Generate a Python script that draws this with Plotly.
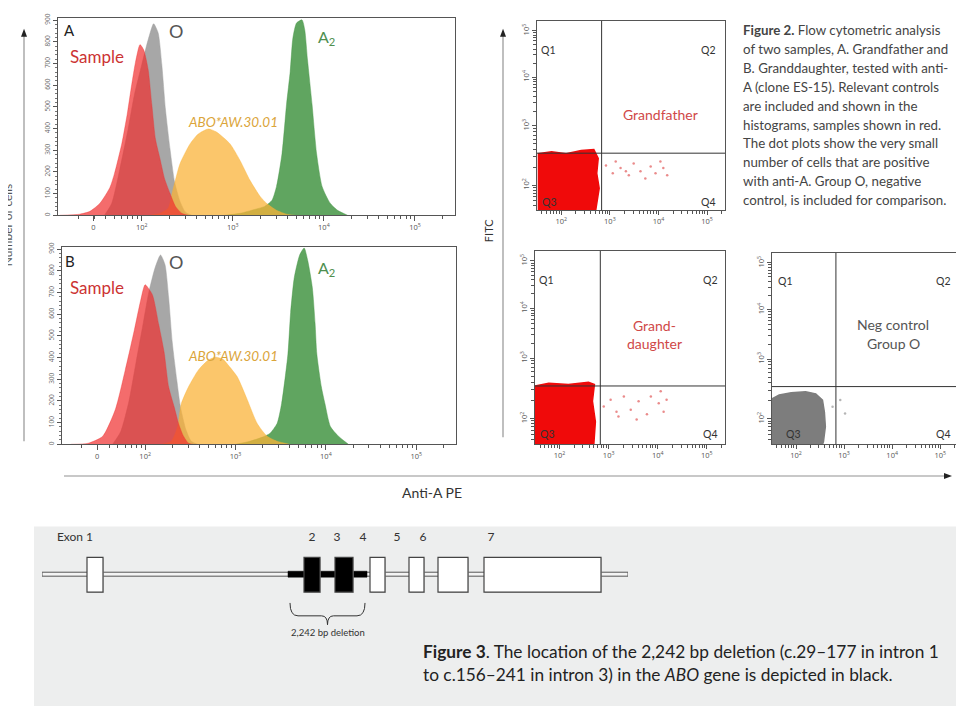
import numpy as np
import plotly.graph_objects as go

W, H = 964, 706
OFF = 8  # page body margin compensation
def px(x): return (x - OFF) / W
def py(y): return 1 - (y - OFF) / H

# ---------------- Histogram data (x = biexponential display decades, y = number of cells)
hist_tick_vals = [1.47, 2, 3, 4, 5]
hist_tick_text = ["0", "10<sup>2</sup>", "10<sup>3</sup>", "10<sup>4</sup>", "10<sup>5</sup>"]
count_ticks = [0, 100, 200, 300, 400, 500, 600, 700, 800, 900]

# Panel A (Grandfather)
a_sample_x = [1.10, 1.32, 1.43, 1.54, 1.65, 1.70, 1.78, 1.84, 1.89, 1.93, 1.98, 2.02, 2.07, 2.11, 2.15, 2.20, 2.25, 2.31, 2.37, 2.44, 2.51]
a_sample_y = [0, 5, 18, 55, 128, 192, 329, 466, 604, 704, 787, 764, 672, 512, 352, 261, 169, 101, 41, 9, 0]
a_o_x = [1.59, 1.67, 1.76, 1.85, 1.92, 2.00, 2.07, 2.13, 2.18, 2.22, 2.26, 2.31, 2.36, 2.42, 2.48, 2.55]
a_o_y = [0, 55, 215, 398, 558, 695, 809, 883, 841, 695, 489, 306, 155, 64, 14, 0]
a_aw_x = [2.09, 2.20, 2.29, 2.34, 2.42, 2.53, 2.62, 2.73, 2.82, 2.97, 3.08, 3.19, 3.30, 3.37, 3.48, 3.59, 3.68]
a_aw_y = [0, 9, 32, 114, 238, 329, 375, 398, 384, 329, 252, 160, 87, 55, 23, 5, 0]
a_a2_x = [2.91, 3.08, 3.24, 3.35, 3.43, 3.48, 3.54, 3.59, 3.63, 3.66, 3.70, 3.76, 3.79, 3.82, 3.87, 3.92, 3.98, 4.07, 4.15, 4.26]
a_a2_y = [0, 9, 27, 41, 69, 133, 284, 512, 663, 819, 887, 901, 855, 718, 512, 284, 133, 55, 23, 0]

# Panel B (Granddaughter)
b_sample_x = [1.18, 1.37, 1.53, 1.67, 1.78, 1.88, 1.95, 2.00, 2.08, 2.15, 2.21, 2.26, 2.32, 2.37, 2.42, 2.48, 2.53]
b_sample_y = [0, 5, 37, 160, 343, 526, 663, 736, 690, 553, 425, 265, 174, 96, 41, 5, 0]
b_o_x = [1.64, 1.73, 1.82, 1.90, 1.98, 2.04, 2.11, 2.17, 2.22, 2.26, 2.30, 2.35, 2.39, 2.45, 2.51, 2.58]
b_o_y = [0, 59, 197, 380, 562, 700, 814, 873, 828, 677, 471, 297, 174, 69, 14, 0]
b_aw_x = [2.18, 2.29, 2.36, 2.40, 2.48, 2.59, 2.70, 2.78, 2.86, 2.91, 3.02, 3.13, 3.24, 3.35, 3.46, 3.60]
b_aw_y = [0, 14, 82, 187, 265, 343, 389, 402, 393, 370, 311, 206, 96, 37, 14, 0]
b_a2_x = [3.00, 3.16, 3.29, 3.38, 3.46, 3.51, 3.58, 3.61, 3.65, 3.71, 3.76, 3.80, 3.85, 3.88, 3.90, 3.95, 3.99, 4.05, 4.14, 4.25]
b_a2_y = [0, 14, 32, 50, 96, 187, 416, 608, 768, 873, 905, 846, 723, 562, 416, 265, 187, 82, 37, 0]

# ---------------- Dot plot data (display decades; PE on x, FITC on y)
dot_x_ticks = [2, 3, 4, 5]
dot_y_ticks = [2, 3.15, 4.10, 5.0]
dot_tick_text = ["10<sup>2</sup>", "10<sup>3</sup>", "10<sup>4</sup>", "10<sup>5</sup>"]
gate_x = 2.83
gate_y = 2.62

gf_core_x = [1.53, 1.53, 1.80, 2.10, 2.41, 2.67, 2.76, 2.73, 2.78, 2.73, 2.69]
gf_core_y = [1.40, 2.61, 2.65, 2.61, 2.67, 2.69, 2.52, 2.23, 1.94, 1.66, 1.40]
gf_pos_x = [2.92, 3.06, 3.12, 3.22, 3.33, 3.39, 3.49, 3.63, 3.73, 3.84, 3.94, 4.04, 4.10, 4.18]
gf_pos_y = [2.38, 2.23, 2.46, 2.33, 2.27, 2.19, 2.42, 2.27, 2.13, 2.36, 2.23, 2.46, 2.33, 2.19]

gd_core_x = [1.45, 1.45, 1.78, 2.18, 2.59, 2.71, 2.67, 2.73, 2.69]
gd_core_y = [1.40, 2.61, 2.67, 2.65, 2.69, 2.65, 2.33, 1.94, 1.40]
gd_pos_x = [2.90, 3.04, 3.16, 3.20, 3.31, 3.45, 3.57, 3.61, 3.78, 3.86, 4.02, 4.06, 4.12, 4.18]
gd_pos_y = [2.23, 2.36, 2.13, 2.04, 2.42, 2.17, 1.98, 2.33, 2.08, 2.42, 2.29, 2.52, 2.13, 2.36]

neg_core_x = [1.45, 1.45, 1.65, 1.90, 2.20, 2.41, 2.55, 2.59, 2.61, 2.57, 2.51]
neg_core_y = [1.40, 2.36, 2.46, 2.50, 2.52, 2.48, 2.36, 2.13, 1.85, 1.56, 1.40]
neg_pos_x = [2.76, 2.92, 3.02]
neg_pos_y = [2.23, 2.36, 2.10]

# ---------------- ABO gene structure (diagram units along the gene)
gene_length = 586
exon_names = ["1", "2", "3", "4", "5", "6", "7"]
exon_start = [45, 262, 293, 328, 367, 396, 442]
exon_end = [61, 278, 311, 343, 382, 426, 559]
exon_deleted = [False, True, True, False, False, False, False]
exon_label_text = ["Exon 1", "2", "3", "4", "5", "6", "7"]
exon_label_x = [33, 270, 295, 321, 355, 381, 449]
deletion_start, deletion_end = 246, 325
deletion_label = "2,242 bp deletion"

fig = go.Figure()

# ---- histograms
RED = "rgba(240,45,45,0.70)"
GRAY = "rgba(160,160,160,0.92)"
YEL = "rgba(250,178,55,0.74)"
GRN = "rgba(70,150,70,0.86)"

def hist(xs, ys, color, ax):
    fig.add_trace(go.Scatter(x=xs, y=ys, mode="lines", fill="tozeroy", fillcolor=color,
                             line=dict(color=color, width=0.5, shape="spline", smoothing=0.6),
                             xaxis="x" + ax, yaxis="y" + ax, hoverinfo="skip", showlegend=False))

for ax, (s, o, aw, a2) in {"": ((a_sample_x, a_sample_y), (a_o_x, a_o_y), (a_aw_x, a_aw_y), (a_a2_x, a_a2_y)),
                           "2": ((b_sample_x, b_sample_y), (b_o_x, b_o_y), (b_aw_x, b_aw_y), (b_a2_x, b_a2_y))}.items():
    hist(o[0], o[1], GRAY, ax)
    hist(a2[0], a2[1], GRN, ax)
    hist(aw[0], aw[1], YEL, ax)
    hist(s[0], s[1], RED, ax)

# ---- dot plots
def dots(core_x, core_y, pos_x, pos_y, color, dotcolor, ax):
    fig.add_trace(go.Scatter(x=core_x, y=core_y, mode="lines", fill="toself", fillcolor=color,
                             line=dict(color=color, width=1.5), xaxis="x" + ax, yaxis="y" + ax,
                             hoverinfo="skip", showlegend=False))
    fig.add_trace(go.Scatter(x=pos_x, y=pos_y, mode="markers", marker=dict(size=2.5, color=dotcolor),
                             xaxis="x" + ax, yaxis="y" + ax, hoverinfo="skip", showlegend=False))

dots(gf_core_x, gf_core_y, gf_pos_x, gf_pos_y, "rgb(240,10,10)", "rgba(225,90,90,0.7)", "3")
dots(gd_core_x, gd_core_y, gd_pos_x, gd_pos_y, "rgb(240,10,10)", "rgba(225,90,90,0.7)", "4")
dots(neg_core_x, neg_core_y, neg_pos_x, neg_pos_y, "rgb(125,125,125)", "rgba(150,150,150,0.7)", "5")

# ---- gene diagram anchor trace (exon labels)
fig.add_trace(go.Scatter(x=exon_label_x, y=[0.5] * len(exon_label_x), mode="text", text=exon_label_text,
                         textfont=dict(family="Lato", size=12, color="#333"), xaxis="x6", yaxis="y6",
                         hoverinfo="skip", showlegend=False))

# ---- axes
def minor_log(lo, hi, majors):
    vals = []
    for d in range(len(majors) - 1):
        a, b = majors[d], majors[d + 1]
        for k in range(2, 10):
            vals.append(a + (b - a) * np.log10(k))
    return [v for v in vals if lo < v < hi]

AX = dict(showgrid=False, zeroline=False, showline=True, mirror=True, linecolor="#555", linewidth=1,
          ticks="outside", tickcolor="#555", fixedrange=True)

hist_minor = minor_log(1.0, 5.45, [1, 2, 3, 4, 5, 6])
def hist_axes(xdom, ydom):
    xa = dict(AX, domain=xdom, range=[1.08, 5.44], tickmode="array", tickvals=hist_tick_vals,
              ticktext=hist_tick_text, ticklen=5, tickfont=dict(size=7.5, color="#555", family="Open Sans"),
              minor=dict(tickmode="array", tickvals=hist_minor, ticklen=3, ticks="outside", tickcolor="#555"))
    ya = dict(AX, domain=ydom, range=[0, 910], tickmode="array", tickvals=count_ticks, ticklen=4,
              tickangle=-90, tickfont=dict(size=6.5, color="#666", family="Open Sans"),
              minor=dict(dtick=20, ticklen=2, ticks="outside", tickcolor="#777"))
    return xa, ya

xa, ya = hist_axes([px(58), px(455)], [py(212), py(13)])
xb, yb = hist_axes([px(62), px(456)], [py(443), py(244)])
xa["anchor"], ya["anchor"] = "y", "x"
xb["anchor"], yb["anchor"] = "y2", "x2"

dot_minor_x = minor_log(1.5, 5.4, [1, 2, 3, 4, 5, 6])
dot_minor_y = minor_log(1.5, 5.2, [1.0, 2, 3.15, 4.10, 5.0, 5.9])
def dot_axes(xdom, ydom, n):
    xa_ = dict(AX, domain=xdom, range=[1.5, 5.37], tickmode="array", tickvals=dot_x_ticks, ticktext=dot_tick_text,
               ticklen=4, tickfont=dict(size=7.5, color="#555", family="Open Sans"), anchor="y" + n,
               minor=dict(tickmode="array", tickvals=dot_minor_x, ticklen=3, ticks="outside", tickcolor="#555"))
    ya_ = dict(AX, domain=ydom, range=[1.51, 5.19], tickmode="array", tickvals=dot_y_ticks, ticktext=dot_tick_text,
               ticklen=4, tickangle=-90, tickfont=dict(size=7.5, color="#555", family="Open Sans"), anchor="x" + n,
               minor=dict(tickmode="array", tickvals=dot_minor_y, ticklen=3, ticks="outside", tickcolor="#555"))
    return xa_, ya_

x3, y3 = dot_axes([px(537), px(725)], [py(207), py(16)], "3")
x4, y4 = dot_axes([px(535), px(725)], [py(443), py(248)], "4")
x5, y5 = dot_axes([px(772), px(958)], [py(443), py(250)], "5")

x6 = dict(domain=[px(42), px(628)], range=[0, gene_length], visible=False, anchor="y6", fixedrange=True)
y6 = dict(domain=[py(545), py(530)], range=[0, 1], visible=False, anchor="x6", fixedrange=True)

shapes = []
# quadrant gates
for n in ["3", "4", "5"]:
    shapes.append(dict(type="line", xref="x" + n, yref="y" + n + " domain", x0=gate_x, x1=gate_x, y0=0, y1=1,
                       line=dict(color="#333", width=1)))
    shapes.append(dict(type="line", xref="x" + n + " domain", yref="y" + n, x0=0, x1=1, y0=gate_y, y1=gate_y,
                       line=dict(color="#333", width=1)))

# outer axis lines
shapes.append(dict(type="line", xref="paper", yref="paper", x0=px(24), x1=px(24), y0=py(440), y1=py(30),
                   line=dict(color="#aaa", width=1.5)))
shapes.append(dict(type="line", xref="paper", yref="paper", x0=px(503), x1=px(503), y0=py(436), y1=py(30),
                   line=dict(color="#aaa", width=1.5)))
shapes.append(dict(type="line", xref="paper", yref="paper", x0=px(64), x1=px(946), y0=py(475), y1=py(475),
                   line=dict(color="#c8c8c8", width=2)))
for xa_ in [24, 503]:
    shapes.append(dict(type="path", xref="paper", yref="paper",
                       path=f"M {px(xa_)} {py(24)} L {px(xa_-3)} {py(32)} L {px(xa_+3)} {py(32)} Z",
                       fillcolor="#222", line=dict(width=0)))
shapes.append(dict(type="path", xref="paper", yref="paper",
                   path=f"M {px(952)} {py(475)} L {px(944)} {py(472)} L {px(944)} {py(478)} Z",
                   fillcolor="#222", line=dict(width=0)))

# Figure 3 background panel
shapes.append(dict(type="rect", xref="paper", yref="paper", x0=px(34), x1=1, y0=0, y1=py(526),
                   fillcolor="#edeeee", line=dict(width=0), layer="below"))
# gene backbone
shapes.append(dict(type="rect", xref="x6", yref="paper", x0=0, x1=gene_length, y0=py(576), y1=py(572),
                   fillcolor="#f4f4f4", line=dict(color="#555", width=1)))
# deletion (black thick line)
shapes.append(dict(type="rect", xref="x6", yref="paper", x0=deletion_start, x1=deletion_end, y0=py(577), y1=py(571),
                   fillcolor="#000", line=dict(color="#000", width=0.5)))
for s, e, dl in zip(exon_start, exon_end, exon_deleted):
    shapes.append(dict(type="rect", xref="x6", yref="paper", x0=s + 1, x1=e + 1, y0=py(593), y1=py(558),
                       fillcolor="#bbb", line=dict(width=0), opacity=0.6))
    shapes.append(dict(type="rect", xref="x6", yref="paper", x0=s, x1=e, y0=py(592), y1=py(557),
                       fillcolor="#000" if dl else "#fff", line=dict(color="#444", width=1.2)))
# brace
mid = (deletion_start + deletion_end) / 2
shapes.append(dict(type="path", xref="x6", yref="paper", line=dict(color="#333", width=1),
                   path=(f"M {deletion_start+2} {py(603)} Q {deletion_start+2} {py(616)} {deletion_start+10} {py(616)} "
                         f"L {mid-6} {py(616)} Q {mid} {py(616)} {mid} {py(625)} Q {mid} {py(616)} {mid+6} {py(616)} "
                         f"L {deletion_end-10} {py(616)} Q {deletion_end-2} {py(616)} {deletion_end-2} {py(603)}")))

ann = []
def T(x, y, text, size=11, color="#333", family="Lato", xanchor="center", angle=0, **kw):
    ann.append(dict(x=px(x), y=py(y), xref="paper", yref="paper", text=text, showarrow=False,
                    font=dict(size=size, color=color, family=family), xanchor=xanchor, yanchor="middle",
                    textangle=angle, **kw))

# histogram labels
for (dy, letter) in [(0, "A"), (233, "B")]:
    T(70, 25 + dy, letter, size=15, color="#222")
    T(176, 26 + dy, "O", size=18, color="#555")
    T(326, 33 + dy, "A<sub>2</sub>", size=16, color="#4f8f4f")
    T(97, 52 + dy, "Sample", size=17, color="#cc3333")
    T(233, 118 + dy + (3 if dy else 0), "<i>ABO*AW.30.01</i>", size=13.5, color="#dba53a")

T(7, 222, "Number of cells", size=12, color="#555", angle=-90)
T(432, 492, "Anti-A PE", size=14, color="#333")
T(488, 228, "FITC", size=11, color="#333", angle=-90)

# dot plot labels
Q = 10.5
T(548, 45, "Q1", size=Q); T(708, 45, "Q2", size=Q); T(549, 199, "Q3", size=Q); T(708, 199, "Q4", size=Q)
T(546, 277, "Q1", size=Q); T(710, 277, "Q2", size=Q); T(547, 433, "Q3", size=Q); T(710, 433, "Q4", size=Q)
T(785, 278, "Q1", size=Q); T(943, 278, "Q2", size=Q); T(793, 433, "Q3", size=Q); T(943, 433, "Q4", size=Q)
T(660, 110, "Grandfather", size=14, color="#d04848")
T(654, 323, "Grand-", size=14, color="#d04848")
T(654, 341, "daughter", size=14, color="#d04848")
T(893, 322, "Neg control", size=14, color="#555")
T(893, 341, "Group O", size=14, color="#555")

# figure 2 caption
cap2 = ["<b>Figure 2.</b> Flow cytometric analysis",
        "of two samples, A. Grandfather and",
        "B. Granddaughter, tested with anti-",
        "A (clone ES-15). Relevant controls",
        "are included and shown in the",
        "histograms, samples shown in red.",
        "The dot plots show the very small",
        "number of cells that are positive",
        "with anti-A. Group O, negative",
        "control, is included for comparison."]
for i, line in enumerate(cap2):
    T(741, 25 + i * 19.1, line, size=13.3, color="#444", family="Lato", xanchor="left")

# gene diagram labels
T(328, 633, deletion_label, size=9.5, color="#333", family="Lato")
T(421, 652, "<b>Figure 3</b>. The location of the 2,242 bp deletion (c.29–177 in intron 1",
  size=17.3, color="#222", xanchor="left")
T(421, 675, "to c.156–241 in intron 3) in the <i>ABO</i> gene is depicted in black.",
  size=17.3, color="#222", xanchor="left")

fig.update_layout(
    width=W, height=H, margin=dict(l=0, r=0, t=0, b=0),
    paper_bgcolor="white", plot_bgcolor="rgba(0,0,0,0)",
    showlegend=False,
    xaxis=xa, yaxis=ya, xaxis2=xb, yaxis2=yb,
    xaxis3=x3, yaxis3=y3, xaxis4=x4, yaxis4=y4, xaxis5=x5, yaxis5=y5,
    xaxis6=x6, yaxis6=y6,
    shapes=shapes, annotations=ann,
    font=dict(family="Lato"),
)

fig.write_html("out.html")
